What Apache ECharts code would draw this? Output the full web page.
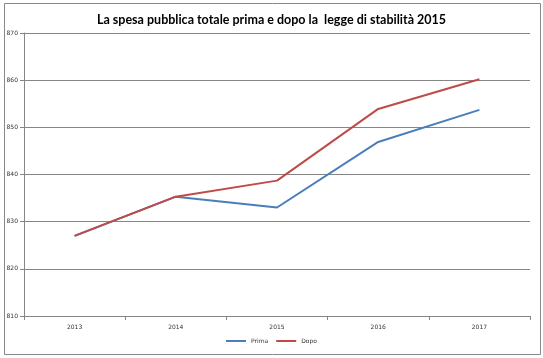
<!DOCTYPE html>
<html><head><meta charset="utf-8">
<script src="https://cdn.jsdelivr.net/npm/echarts@6/dist/echarts.min.js"></script>
<style>html,body{margin:0;padding:0;background:#fff}#c{width:543px;height:358px}</style>
</head><body><div id="c"></div>
<script>
const years = ['2013','2014','2015','2016','2017'];
const prima = [827.0, 835.3, 833.0, 846.9, 853.7];
const dopo  = [827.0, 835.3, 838.7, 853.9, 860.2];
const yMin = 810, yMax = 870, yStep = 10;

const chart = echarts.init(document.getElementById('c'));
chart.setOption({
  animation: false,
  title: {
    text: 'La spesa pubblica totale prima e dopo la  legge di stabilità 2015',
    left: 'center', top: 8,
    textStyle: { fontFamily: 'Lato', fontSize: 12.5, fontWeight: 'bold', color: '#000' }
  },
  graphic: [{
    type: 'rect', left: 2, top: 1, shape: { width: 536, height: 351 },
    style: { fill: 'none', stroke: '#888', lineWidth: 1 }, silent: true
  }],
  legend: {
    bottom: 9, left: 'center', itemWidth: 20, itemHeight: 2, itemGap: 8,
    icon: 'rect',
    textStyle: { fontFamily: 'DejaVu Sans', fontSize: 6, color: '#333' },
    data: ['Prima', 'Dopo']
  },
  grid: { left: 24, right: 13, top: 33, bottom: 42, containLabel: false },
  xAxis: {
    type: 'category', data: years, boundaryGap: true,
    axisLine: { lineStyle: { color: '#868686' } },
    axisTick: { show: true, length: 4, lineStyle: { color: '#868686' } },
    axisLabel: { fontFamily: 'DejaVu Sans', fontSize: 6, color: '#333', margin: 8 }
  },
  yAxis: {
    type: 'value', min: yMin, max: yMax, interval: yStep,
    axisLine: { show: true, lineStyle: { color: '#868686' } },
    axisTick: { show: true, length: 4, lineStyle: { color: '#868686' } },
    splitLine: { lineStyle: { color: '#868686', width: 1 } },
    axisLabel: { fontFamily: 'DejaVu Sans', fontSize: 6, color: '#333', margin: 6 }
  },
  series: [
    { name: 'Prima', type: 'line', data: prima, symbol: 'none',
      lineStyle: { color: '#4A7EBB', width: 2 }, itemStyle: { color: '#4A7EBB' } },
    { name: 'Dopo', type: 'line', data: dopo, symbol: 'none',
      lineStyle: { color: '#BE4B48', width: 2 }, itemStyle: { color: '#BE4B48' } }
  ]
});
</script></body></html>
